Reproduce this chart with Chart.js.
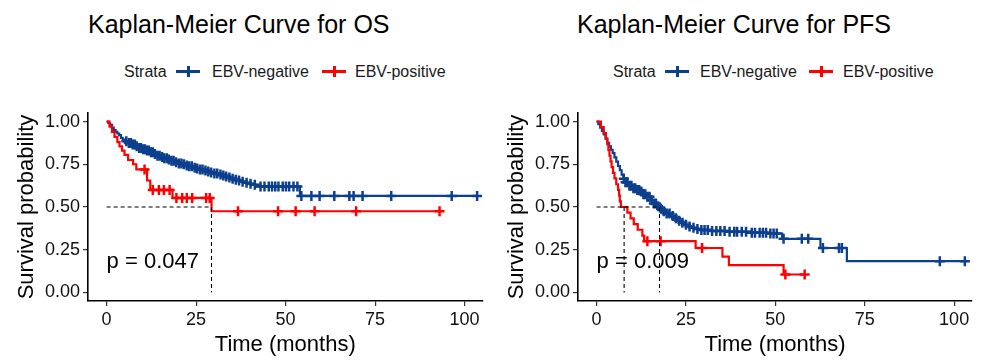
<!DOCTYPE html>
<html><head><meta charset="utf-8">
<script src="https://cdn.jsdelivr.net/npm/chart.js@4"></script>
<style>
body{margin:0;background:#fff;width:983px;height:362px;overflow:hidden;position:relative;font-family:'Liberation Sans',Arial,sans-serif;}
canvas{position:absolute;top:0;}
.title{position:absolute;top:11.7px;font-size:25px;line-height:25px;color:#000;white-space:nowrap;}
.leg{position:absolute;top:63.5px;font-size:16px;line-height:16px;color:#1a1a1a;white-space:nowrap;}
.key{position:absolute;top:61px;width:24px;height:20px;}
.key .h{position:absolute;left:0;top:9px;width:24px;height:3px;}
.key .v{position:absolute;left:11px;top:5px;width:2.5px;height:11px;}
</style></head>
<body>
<div class="title" style="left:88px">Kaplan-Meier Curve for OS</div>
<div class="leg" style="left:124px">Strata</div>
<div class="key" style="left:176px"><div class="h" style="background:#0d3f8f"></div><div class="v" style="background:#0d3f8f"></div></div>
<div class="leg" style="left:212px">EBV-negative</div>
<div class="key" style="left:322px"><div class="h" style="background:#ff0000"></div><div class="v" style="background:#ff0000"></div></div>
<div class="leg" style="left:355px">EBV-positive</div>

<div class="title" style="left:577px">Kaplan-Meier Curve for PFS</div>
<div class="leg" style="left:613px">Strata</div>
<div class="key" style="left:665px"><div class="h" style="background:#0d3f8f"></div><div class="v" style="background:#0d3f8f"></div></div>
<div class="leg" style="left:700px">EBV-negative</div>
<div class="key" style="left:809px"><div class="h" style="background:#ff0000"></div><div class="v" style="background:#ff0000"></div></div>
<div class="leg" style="left:843px">EBV-positive</div>

<canvas id="os" width="490" height="362" style="left:0px"></canvas>
<canvas id="pfs" width="493" height="362" style="left:490px"></canvas>
<script>
// ---------- data ----------
const X_TICKS = [0, 25, 50, 75, 100];
const Y_TICKS = [0, 0.25, 0.5, 0.75, 1];

// OS, EBV-negative
const OS_NEG_T = [0, 0.5, 1, 1.5, 2, 2.5, 3, 3.5, 4, 4.5, 5, 6, 7, 8, 9, 10, 11, 12, 13, 14, 15, 16, 17, 18, 19, 20, 21, 22, 23, 24, 25, 26, 27, 28, 29, 30, 31, 32, 33, 34, 35, 36, 37, 38, 39, 40, 41, 42, 54];
const OS_NEG_S = [1, 0.99, 0.98, 0.965, 0.95, 0.94, 0.93, 0.92, 0.905, 0.895, 0.885, 0.875, 0.865, 0.855, 0.845, 0.838, 0.83, 0.82, 0.81, 0.80, 0.792, 0.785, 0.778, 0.77, 0.762, 0.755, 0.75, 0.743, 0.738, 0.73, 0.725, 0.72, 0.714, 0.708, 0.702, 0.696, 0.69, 0.684, 0.678, 0.672, 0.666, 0.66, 0.655, 0.648, 0.642, 0.636, 0.63, 0.62, 0.565];
const OS_NEG_END = 103.5;
const OS_NEG_CENS = [5.5, 6.2, 6.8, 7.3, 7.9, 8.4, 9.1, 9.6, 10.2, 10.7, 11.3, 11.8, 12.4, 12.9, 13.5, 14.2, 14.8, 15.5, 16.1, 16.8, 17.4, 18.1, 18.7, 19.4, 20.2, 20.9, 21.6, 22.4, 23.1, 23.8, 24.6, 25.3, 26.1, 26.8, 27.6, 28.4, 29.2, 30.1, 30.9, 31.8, 32.6, 33.4, 34.3, 35.2, 36.1, 37.0, 38.0, 39.1, 40.2, 41.4, 43.0, 44.1, 45.3, 46.2, 47.1, 48.0, 49.2, 50.1, 51.0, 52.2, 53.3, 54.4, 57.2, 59.5, 63.6, 67.8, 69.0, 71.5, 79.5, 96.4, 103.5];

// OS, EBV-positive
const OS_POS_T = [0, 0.8, 1.5, 2.2, 3, 3.6, 4.3, 5, 6, 7.4, 8.3, 11.3, 12.2, 18.4, 29.3];
const OS_POS_S = [1, 0.97, 0.94, 0.91, 0.88, 0.855, 0.83, 0.805, 0.775, 0.75, 0.72, 0.655, 0.60, 0.553, 0.475];
const OS_POS_END = 93.0;
const OS_POS_CENS = [10.6, 12.9, 14.6, 16.0, 17.6, 19.5, 21.1, 22.4, 23.9, 27.8, 28.8, 36.7, 47.9, 52.8, 58.1, 69.7, 93.0];
const OS_MEDIANS = [29.3];
const OS_P = 'p = 0.047';

// PFS, EBV-negative
const PFS_NEG_T = [0, 0.5, 1, 1.5, 2, 2.5, 3, 3.5, 4, 4.5, 5, 5.5, 6, 6.5, 7, 7.5, 8, 9, 10, 11, 12, 13, 14, 15, 16, 17, 17.6, 18.5, 19.5, 20.5, 21.5, 22.5, 23.5, 24.5, 25.5, 26.5, 27.5, 29, 32, 37, 43, 48, 51.9, 62.6, 70];
const PFS_NEG_S = [1, 0.985, 0.965, 0.945, 0.925, 0.9, 0.875, 0.855, 0.835, 0.815, 0.79, 0.765, 0.74, 0.715, 0.69, 0.665, 0.645, 0.625, 0.61, 0.6, 0.59, 0.575, 0.56, 0.54, 0.52, 0.505, 0.49, 0.475, 0.462, 0.448, 0.434, 0.42, 0.408, 0.396, 0.386, 0.378, 0.372, 0.366, 0.36, 0.355, 0.35, 0.345, 0.314, 0.26, 0.183];
const PFS_NEG_END = 103.0;
const PFS_NEG_CENS = [7.6, 8.1, 8.6, 9.2, 9.7, 10.3, 10.8, 11.4, 11.9, 12.5, 13.1, 13.6, 14.2, 14.8, 15.4, 16.0, 16.6, 17.2, 18.0, 18.8, 19.6, 20.4, 21.3, 22.2, 23.1, 24.0, 25.0, 26.0, 27.1, 28.2, 29.3, 30.2, 31.1, 32.3, 33.5, 34.6, 35.8, 37.2, 38.5, 39.3, 40.6, 41.8, 43.4, 44.3, 45.6, 46.5, 47.4, 48.6, 49.5, 50.4, 52.3, 57.4, 59.2, 63.3, 67.8, 68.6, 96.0, 103.0];

// PFS, EBV-positive
const PFS_POS_T = [0, 1.2, 2, 2.6, 3, 3.3, 3.6, 3.9, 4.2, 4.6, 5, 5.5, 6, 6.3, 6.5, 6.8, 8.6, 9.5, 10.4, 11.5, 12.8, 13.3, 27.7, 35.2, 37, 52.3];
const PFS_POS_S = [1, 0.967, 0.933, 0.9, 0.867, 0.833, 0.8, 0.767, 0.733, 0.7, 0.667, 0.633, 0.6, 0.567, 0.533, 0.5, 0.467, 0.433, 0.4, 0.367, 0.333, 0.3, 0.26, 0.21, 0.16, 0.105];
const PFS_POS_END = 58.2;
const PFS_POS_CENS = [14.2, 17.9, 29.5, 52.8, 58.2];
const PFS_MEDIANS = [7.7, 17.6];
const PFS_P = 'p = 0.009';

// ---------- drawing ----------
const FONT = "'Liberation Sans', Arial, sans-serif";
const BLUE = '#0d3f8f', RED = '#ff0000';
const X_MIN = -5.2, X_MAX = 105, Y_MIN = -0.05, Y_MAX = 1.05;

function sAt(T, S, t) { let v = S[0]; for (let i = 0; i < T.length; i++) { if (T[i] <= t) v = S[i]; else break; } return v; }
function curve(T, S, end) { const p = T.map((t, i) => ({x: t, y: S[i]})); p.push({x: end, y: S[S.length - 1]}); return p; }
function cens(T, S, C) { return C.map(c => ({x: c, y: sAt(T, S, c)})); }

function lineDs(data, color) {
  return {data, showLine: true, stepped: 'before', borderColor: color, borderWidth: 2.2, pointRadius: 0, fill: false};
}
function censDs(data, color) {
  return {data, showLine: false, pointStyle: 'cross', pointRadius: 5, pointBorderWidth: 2.5, borderColor: color, backgroundColor: color, pointHoverRadius: 5};
}
function dashDs(data) {
  return {data, showLine: true, borderColor: '#000', borderWidth: 1.1, borderDash: [4, 3], pointRadius: 0, fill: false};
}
function medianDatasets(meds) {
  const out = [dashDs([{x: 0, y: 0.5}, {x: Math.max(...meds), y: 0.5}])];
  meds.forEach(m => out.push(dashDs([{x: m, y: 0.5}, {x: m, y: 0}])));
  return out;
}

const pPlugin = {
  id: 'pval',
  afterDatasetsDraw(chart, args, opts) {
    const {ctx, scales: {x, y}} = chart;
    ctx.save();
    ctx.font = '22px ' + FONT;
    ctx.fillStyle = '#000';
    ctx.textAlign = 'left';
    ctx.textBaseline = 'middle';
    ctx.fillText(opts.text, x.getPixelForValue(opts.x), y.getPixelForValue(opts.y));
    ctx.restore();
  }
};

function build(id, padRight, datasets, ptext) {
  new Chart(document.getElementById(id), {
    type: 'scatter',
    data: {datasets},
    options: {
      responsive: false, animation: false, events: [],
      layout: {padding: {top: 113, right: padRight, left: 0, bottom: 0}},
      plugins: {legend: {display: false}, tooltip: {enabled: false}, pval: {text: ptext, x: 0, y: 0.18}},
      scales: {
        x: {
          type: 'linear', min: X_MIN, max: X_MAX,
          afterBuildTicks: s => { s.ticks = X_TICKS.map(v => ({value: v})); },
          afterFit: s => { s.height = 61; },
          grid: {drawOnChartArea: false, drawTicks: true, tickLength: 5, color: '#333', lineWidth: 1.2},
          border: {display: true, color: '#000', width: 1.6},
          ticks: {padding: 3, color: '#111', font: {size: 18, family: FONT}, maxRotation: 0, callback: v => String(v)},
          title: {display: true, text: 'Time (months)', color: '#000', font: {size: 22, family: FONT}, padding: {top: 0, bottom: 4}}
        },
        y: {
          type: 'linear', min: Y_MIN, max: Y_MAX,
          afterBuildTicks: s => { s.ticks = Y_TICKS.map(v => ({value: v})); },
          afterFit: s => { s.width = 88; },
          grid: {drawOnChartArea: false, drawTicks: true, tickLength: 5, color: '#333', lineWidth: 1.2},
          border: {display: true, color: '#000', width: 1.6},
          ticks: {padding: 3, color: '#111', font: {size: 18, family: FONT}, callback: v => Number(v).toFixed(2)},
          title: {display: true, text: 'Survival probability', color: '#000', font: {size: 22, family: FONT}, padding: {top: 14, bottom: 0}}
        }
      }
    },
    plugins: [pPlugin]
  });
}

build('os', 7, [
  ...medianDatasets(OS_MEDIANS),
  censDs(cens(OS_POS_T, OS_POS_S, OS_POS_CENS), RED),
  lineDs(curve(OS_POS_T, OS_POS_S, OS_POS_END), RED),
  censDs(cens(OS_NEG_T, OS_NEG_S, OS_NEG_CENS), BLUE),
  lineDs(curve(OS_NEG_T, OS_NEG_S, OS_NEG_END), BLUE)
], OS_P);

build('pfs', 11, [
  ...medianDatasets(PFS_MEDIANS),
  censDs(cens(PFS_POS_T, PFS_POS_S, PFS_POS_CENS), RED),
  lineDs(curve(PFS_POS_T, PFS_POS_S, PFS_POS_END), RED),
  censDs(cens(PFS_NEG_T, PFS_NEG_S, PFS_NEG_CENS), BLUE),
  lineDs(curve(PFS_NEG_T, PFS_NEG_S, PFS_NEG_END), BLUE)
], PFS_P);
</script>
</body></html>
